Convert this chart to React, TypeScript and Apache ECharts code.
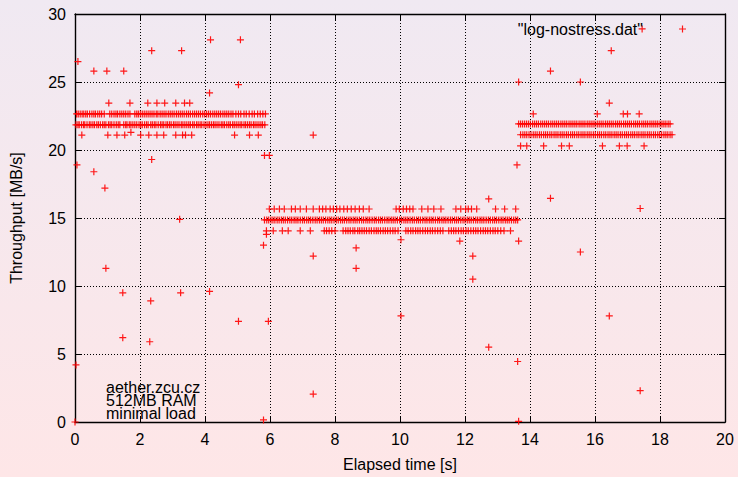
import React, { useEffect, useRef } from "react";
import * as echarts from "echarts";

// Dense bands: time stamps [s] at which the throughput sits on a given level [MB/s]
const phase1HighLevel = 22.65;
const phase1HighTimes = [0.05,0.1,0.16,0.22,0.27,0.33,0.38,0.45,0.52,0.58,0.63,0.7,0.76,0.82,0.9,1.07,1.13,1.2,1.26,1.31,1.38,1.44,1.5,1.56,1.63,1.69,1.84,1.9,1.95,2.01,2.07,2.13,2.19,2.25,2.31,2.37,2.43,2.5,2.55,2.62,2.68,2.74,2.8,2.87,2.93,2.99,3.05,3.12,3.18,3.24,3.3,3.36,3.43,3.49,3.55,3.62,3.68,3.74,3.8,3.86,3.93,3.99,4.05,4.11,4.17,4.24,4.3,4.36,4.42,4.48,4.55,4.61,4.67,4.73,4.8,4.86,4.95,5.03,5.1,5.2,5.27,5.36,5.45,5.52,5.62,5.7,5.78,5.86];

const phase1LowLevel = 21.85;
const phase1LowTimes = [0.03,0.09,0.13,0.2,0.26,0.3,0.37,0.44,0.49,0.55,0.6,0.67,0.72,0.78,0.85,0.9,0.95,1.03,1.08,1.13,1.2,1.27,1.33,1.38,1.5,1.56,1.6,1.67,1.72,1.78,1.84,1.9,1.97,2.02,2.07,2.14,2.2,2.25,2.33,2.38,2.44,2.49,2.56,2.63,2.68,2.73,2.8,2.85,2.91,2.96,3.03,3.08,3.14,3.2,3.27,3.32,3.38,3.44,3.5,3.55,3.62,3.67,3.74,3.79,3.85,3.9,3.97,4.03,4.09,4.14,4.2,4.26,4.31,4.37,4.43,4.5,4.55,4.6,4.67,4.73,4.78,4.85,4.9,4.96,5.02,5.08,5.13,5.2,5.25,5.31,5.37,5.42,5.49,5.54,5.6,5.66,5.72,5.77,5.84];

const phase2TopLevel = 15.66;
const phase2TopTimes = [5.98,6.13,6.29,6.44,6.66,6.78,6.93,7.12,7.33,7.52,7.62,7.72,7.85,7.95,8.05,8.15,8.27,8.38,8.5,8.62,8.75,8.87,9.05,9.88,9.98,10.1,10.2,10.3,10.4,10.67,10.86,11.04,11.26,11.72,11.87,12.02,12.1,12.2,12.36,12.94,13.22,13.56];

const phase2MidLevel = 14.86;
const phase2MidTimes = [5.83,5.9,5.96,6.03,6.09,6.15,6.22,6.28,6.35,6.41,6.47,6.54,6.61,6.67,6.74,6.8,6.86,6.93,7.0,7.06,7.13,7.19,7.25,7.32,7.39,7.45,7.52,7.58,7.64,7.71,7.78,7.84,7.9,7.97,8.04,8.1,8.17,8.23,8.29,8.36,8.43,8.49,8.56,8.62,8.68,8.75,8.82,8.88,8.95,9.01,9.07,9.14,9.21,9.27,9.34,9.4,9.46,9.53,9.6,9.66,9.73,9.79,9.85,9.92,9.99,10.05,10.12,10.18,10.24,10.31,10.38,10.44,10.51,10.57,10.63,10.7,10.77,10.83,10.9,10.96,11.02,11.09,11.16,11.22,11.29,11.35,11.41,11.48,11.55,11.61,11.68,11.74,11.8,11.87,11.94,12.0,12.07,12.13,12.19,12.26,12.33,12.39,12.46,12.52,12.58,12.65,12.72,12.78,12.85,12.91,12.97,13.04,13.11,13.17,13.24,13.3,13.36,13.43,13.5,13.56,13.62];

const phase2BottomLevel = 14.06;
const phase2BottomTimes = [5.89,6.1,6.38,6.56,6.93,7.24,7.67,7.74,7.82,7.9,8.0,8.25,8.33,8.4,8.47,8.55,8.61,8.7,8.76,8.83,8.9,8.97,9.05,9.12,9.2,9.27,9.33,9.4,9.48,9.55,9.62,9.7,9.78,9.85,9.94,10.18,10.25,10.33,10.4,10.48,10.55,10.62,10.7,10.78,10.85,10.93,11.0,11.08,11.16,11.24,11.32,11.5,11.58,11.65,11.72,11.8,11.88,11.95,12.03,12.1,12.18,12.26,12.33,12.4,12.48,12.56,12.63,12.7,12.78,12.86,12.93,13.01,13.1,13.2,13.4];

const phase3HighLevel = 21.92;
const phase3HighTimes = [13.65,13.71,13.77,13.83,13.89,13.95,14.01,14.08,14.14,14.2,14.26,14.33,14.39,14.45,14.51,14.57,14.64,14.7,14.76,14.82,14.88,14.95,15.01,15.07,15.13,15.2,15.26,15.32,15.38,15.44,15.51,15.57,15.63,15.69,15.76,15.82,15.88,15.94,16.0,16.07,16.13,16.19,16.25,16.32,16.38,16.44,16.5,16.56,16.63,16.69,16.75,16.81,16.88,16.94,17.0,17.06,17.12,17.19,17.25,17.31,17.37,17.44,17.5,17.56,17.62,17.69,17.75,17.81,17.87,17.93,18.0,18.06,18.12,18.18,18.25,18.31];

const phase3LowLevel = 21.12;
const phase3LowTimes = [13.71,13.78,13.84,13.9,13.97,14.03,14.1,14.16,14.22,14.29,14.35,14.42,14.48,14.54,14.61,14.67,14.74,14.8,14.86,14.93,14.99,15.05,15.12,15.18,15.25,15.31,15.37,15.44,15.5,15.57,15.63,15.69,15.76,15.82,15.88,15.95,16.01,16.08,16.14,16.2,16.27,16.33,16.4,16.46,16.52,16.59,16.65,16.71,16.78,16.84,16.91,16.97,17.03,17.1,17.16,17.22,17.29,17.35,17.42,17.48,17.54,17.61,17.67,17.73,17.8,17.86,17.93,17.99,18.05,18.12,18.18,18.24,18.31,18.37];

// Sparse rows just beside the bands
const row23_45Times = [1.04,1.69,2.24,2.52,2.76,3.1,3.37,3.53,16.44];
const row23_45Level = 23.45;
const row21_1Times = [0.21,1.01,1.29,1.53,2.02,2.27,2.52,2.73,3.1,3.31,3.4,3.59,4.91,5.37,5.64,7.33];
const row21_1Level = 21.1;
const row22_65Times = [14.1,16.07,16.87,17.0,17.36];
const row22_65Level = 22.65;
const row20_3Times = [13.71,13.9,14.42,14.97,15.21,16.23,16.75,16.99,17.51];
const row20_3Level = 20.3;

// Isolated outliers
const outlierTimes = [0.09,0.58,0.98,1.5,2.36,3.28,4.17,5.09,5.03,4.14,1.72,0.06,0.58,0.92,2.36,3.22,0.95,1.47,2.33,3.25,4.14,1.47,2.3,5.03,0.03,0,5.8,5.83,5.98,5.8,5.89,5.95,7.33,7.33,8.65,8.65,10.03,10.03,11.84,12.24,12.24,12.73,12.73,13.6,13.65,13.62,13.65,13.65,14.63,15.55,16.5,17.45,14.63,15.55,16.44,17.39,17.39];
const outlierValues = [26.5,25.8,25.8,25.8,27.3,27.3,28.1,28.1,24.8,24.2,21.3,18.9,18.4,17.2,19.3,14.9,11.3,9.5,8.9,9.5,9.6,6.2,5.9,7.4,4.2,0,0.15,19.6,19.6,13.0,13.8,7.4,12.2,2.05,12.8,11.3,13.4,7.8,13.3,12.2,10.5,16.4,5.5,18.9,25.0,4.45,0.05,13.3,25.8,25.0,27.3,28.9,16.45,12.5,7.8,15.7,2.3];

const xTicks = { min: 0, max: 20, interval: 2 };
const yTicks = { min: 0, max: 30, interval: 5 };
const seriesName = '"log-nostress.dat"';
const xTitle = "Elapsed time [s]";
const yTitle = "Throughput [MB/s]";
const noteLines = ["aether.zcu.cz", "512MB RAM", "minimal load"];

const bands: Array<[number, number[]]> = [
  [phase1HighLevel, phase1HighTimes],
  [phase1LowLevel, phase1LowTimes],
  [phase2TopLevel, phase2TopTimes],
  [phase2MidLevel, phase2MidTimes],
  [phase2BottomLevel, phase2BottomTimes],
  [phase3HighLevel, phase3HighTimes],
  [phase3LowLevel, phase3LowTimes],
  [row23_45Level, row23_45Times],
  [row21_1Level, row21_1Times],
  [row22_65Level, row22_65Times],
  [row20_3Level, row20_3Times],
];

const PLUS = "path://M2.9,0h1.2v2.9h2.9v1.2h-2.9v2.9h-1.2v-2.9h-2.9v-1.2h2.9z";
const FONT = "Liberation Sans, Arial, sans-serif";

export default function App() {
  const ref = useRef<HTMLDivElement>(null);
  useEffect(() => {
    if (!ref.current) return;
    const chart = echarts.init(ref.current, undefined, { renderer: "svg" });
    const data: number[][] = [];
    bands.forEach(([lvl, ts]) => ts.forEach((t) => data.push([t, lvl])));
    outlierTimes.forEach((t, i) => data.push([t, outlierValues[i]]));

    const black = "#000";
    const baseAxis = {
      type: "value" as const,
      axisLine: { show: true, onZero: false, lineStyle: { color: black, width: 1.4 } },
      axisTick: { show: true, inside: true, length: 6, lineStyle: { color: black, width: 1 } },
    };
    chart.setOption({
      animation: false,
      backgroundColor: "transparent",
      textStyle: { fontFamily: FONT },
      grid: { left: 73, right: 13, top: 14, bottom: 51, containLabel: false },
      legend: {
        data: [{ name: seriesName, icon: PLUS }],
        align: "right",
        right: 52,
        top: 21,
        padding: 0,
        itemWidth: 7,
        itemHeight: 7,
        selectedMode: false,
        formatter: (n: string) => `{n|${n}}{g| }`,
        textStyle: {
          color: black,
          fontSize: 16,
          fontFamily: FONT,
          rich: {
            n: { fontSize: 16, fontFamily: FONT, color: black },
            g: { width: 31, fontSize: 16 },
          },
        },
      },
      xAxis: [
        {
          ...baseAxis,
          ...xTicks,
          position: "bottom",
          name: xTitle,
          nameLocation: "middle",
          nameGap: 34,
          nameTextStyle: { color: black, fontSize: 16, fontFamily: FONT },
          axisLabel: { color: black, fontSize: 16, fontFamily: FONT, margin: 9 },
          splitLine: { show: true, lineStyle: { color: black, width: 1, type: [1, 2] } },
        },
        {
          ...baseAxis,
          ...xTicks,
          position: "top",
          axisLabel: { show: false },
          splitLine: { show: false },
        },
      ],
      yAxis: [
        {
          ...baseAxis,
          ...yTicks,
          position: "left",
          name: yTitle,
          nameLocation: "middle",
          nameGap: 51,
          nameTextStyle: { color: black, fontSize: 16, fontFamily: FONT },
          axisLabel: { color: black, fontSize: 16, fontFamily: FONT, margin: 9 },
          splitLine: { show: true, lineStyle: { color: black, width: 1, type: [1, 2] } },
        },
        {
          ...baseAxis,
          ...yTicks,
          position: "right",
          axisLabel: { show: false },
          splitLine: { show: false },
        },
      ],
      graphic: noteLines.map((line, i) => ({
        type: "text",
        left: 106,
        top: 379 + i * 13,
        silent: true,
        style: {
          text: line,
          fill: black,
          fontSize: 16,
          fontFamily: FONT,
          lineHeight: 13,
        },
      })),
      series: [
        {
          name: seriesName,
          type: "scatter",
          xAxisIndex: 0,
          yAxisIndex: 0,
          symbol: PLUS,
          symbolSize: 7,
          silent: true,
          itemStyle: { color: "#ff0000", opacity: 0.9 },
          data,
        },
      ],
    });
    return () => chart.dispose();
  }, []);
  return (
    <div
      ref={ref}
      style={{
        position: "absolute",
        left: 0,
        top: 0,
        width: 738,
        height: 477,
        background: "linear-gradient(to bottom, #f0e9f2, #fee6e7)",
      }}
    />
  );
}
